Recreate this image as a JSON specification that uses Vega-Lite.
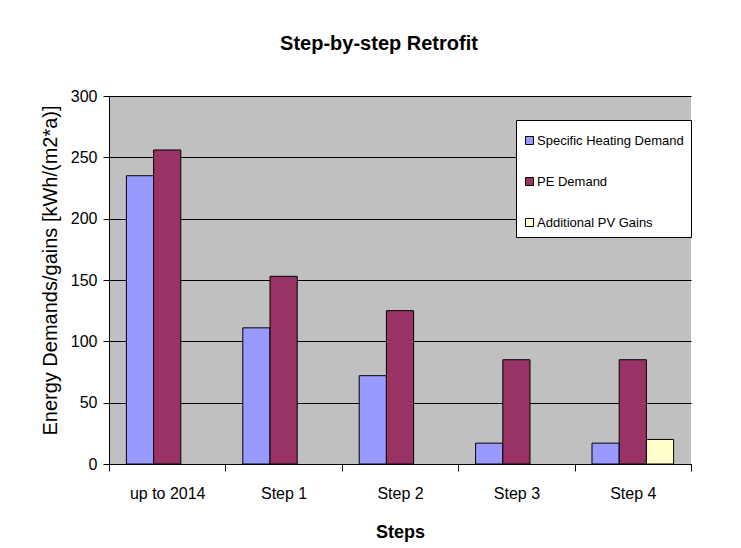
{
  "$schema": "https://vega.github.io/schema/vega-lite/v6.json",
  "width": 582,
  "height": 368,
  "autosize": {"type": "none"},
  "padding": {"left": 109, "top": 96, "right": 50, "bottom": 84},
  "background": "white",
  "title": {
    "text": "Step-by-step Retrofit",
    "font": "Liberation Sans",
    "fontSize": 20,
    "fontWeight": "bold",
    "color": "black",
    "anchor": "middle",
    "frame": "group",
    "dx": -21,
    "offset": 34
  },
  "data": {
    "values": [
      {"step": "up to 2014", "series": "Specific Heating Demand", "value": 235},
      {"step": "up to 2014", "series": "PE Demand", "value": 256},
      {"step": "Step 1", "series": "Specific Heating Demand", "value": 111},
      {"step": "Step 1", "series": "PE Demand", "value": 153},
      {"step": "Step 2", "series": "Specific Heating Demand", "value": 72},
      {"step": "Step 2", "series": "PE Demand", "value": 125},
      {"step": "Step 3", "series": "Specific Heating Demand", "value": 17},
      {"step": "Step 3", "series": "PE Demand", "value": 85},
      {"step": "Step 4", "series": "Specific Heating Demand", "value": 17},
      {"step": "Step 4", "series": "PE Demand", "value": 85},
      {"step": "Step 4", "series": "Additional PV Gains", "value": 20}
    ]
  },
  "mark": {"type": "bar", "stroke": "black", "strokeWidth": 1},
  "encoding": {
    "x": {
      "field": "step",
      "type": "nominal",
      "sort": ["up to 2014", "Step 1", "Step 2", "Step 3", "Step 4"],
      "scale": {"paddingInner": 0, "paddingOuter": 0},
      "axis": {
        "title": "Steps",
        "titleFont": "Liberation Sans",
        "titleFontSize": 18,
        "titleFontWeight": "bold",
        "titleColor": "black",
        "titleBaseline": "middle",
        "titleY": 68,
        "labelFont": "Liberation Sans",
        "labelFontSize": 16,
        "labelColor": "black",
        "labelAngle": 0,
        "labelPadding": 14,
        "tickBand": "extent",
        "tickSize": 7,
        "tickColor": "black",
        "domainColor": "black",
        "grid": false
      }
    },
    "xOffset": {
      "field": "series",
      "type": "nominal",
      "scale": {
        "domain": ["Specific Heating Demand", "PE Demand", "Additional PV Gains"],
        "paddingInner": 0,
        "paddingOuter": 0.64
      }
    },
    "y": {
      "field": "value",
      "type": "quantitative",
      "scale": {"domain": [0, 300]},
      "axis": {
        "title": "Energy Demands/gains [kWh/(m2*a)]",
        "titleFont": "Liberation Sans",
        "titleFontSize": 20,
        "titleFontWeight": "normal",
        "titleColor": "black",
        "titleX": -59,
        "titleY": 174,
        "titleBaseline": "middle",
        "values": [0, 50, 100, 150, 200, 250, 300],
        "labelFont": "Liberation Sans",
        "labelFontSize": 16,
        "labelColor": "black",
        "labelPadding": 6,
        "tickSize": 6,
        "tickColor": "black",
        "domainColor": "black",
        "grid": true,
        "gridColor": "black",
        "gridWidth": 1
      }
    },
    "color": {
      "field": "series",
      "type": "nominal",
      "scale": {
        "domain": ["Specific Heating Demand", "PE Demand", "Additional PV Gains"],
        "range": ["#9999FF", "#993366", "#FFFFCC"]
      },
      "legend": {
        "orient": "none",
        "legendX": 407,
        "legendY": 24,
        "title": " ",
        "titleFontSize": 4,
        "titlePadding": 3,
        "fillColor": "white",
        "strokeColor": "black",
        "padding": 7,
        "symbolType": "square",
        "symbolSize": 64,
        "symbolStrokeColor": "black",
        "symbolStrokeWidth": 1,
        "labelFont": "Liberation Sans",
        "labelFontSize": 13,
        "labelColor": "black",
        "labelOffset": 1,
        "labelLimit": 300,
        "rowPadding": 27
      }
    }
  },
  "config": {
    "view": {"stroke": null, "fill": "#C0C0C0"}
  }
}
